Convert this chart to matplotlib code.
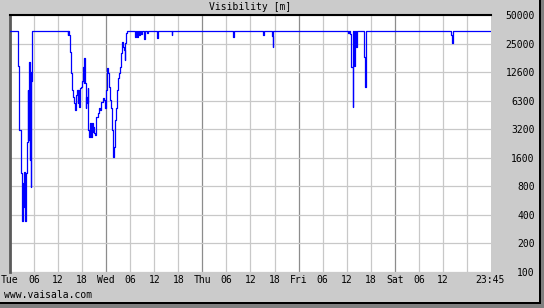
import matplotlib
matplotlib.use("Agg")
import matplotlib.pyplot as plt
from matplotlib.patches import Rectangle

# hours since Tue 00:00 and visibility (m); drawn as steps
hours = [0, 2.08, 2.33, 2.67, 2.92, 3.08, 3.33, 3.46, 3.58, 3.67, 3.83, 4.0, 4.17,
         4.42, 4.58, 4.75, 4.92, 5.08, 5.17, 5.25, 5.42, 5.58,
         14.42, 14.58, 14.75, 15.0, 15.25, 15.58, 15.83, 16.0, 16.25, 16.42, 16.67,
         16.92, 17.08, 17.25, 17.5, 17.75, 18.08, 18.33, 18.45, 18.58, 18.75, 18.92,
         19.05, 19.17, 19.42, 19.58, 19.83, 19.95, 20.08, 20.2, 20.33, 20.58, 20.7,
         20.83, 21.08, 21.33, 21.58, 21.83, 22.08, 22.33, 22.75, 23.08, 23.33, 23.58,
         23.92, 24.17, 24.42, 24.67, 24.92, 25.17, 25.42, 25.58, 25.75, 25.92, 26.08,
         26.25, 26.5, 26.75, 26.92, 27.17, 27.42, 27.67, 27.92, 28.17, 28.42, 28.58,
         28.75, 28.92, 29.17,
         31.2, 31.45, 31.7, 31.95, 32.2, 32.45, 32.7, 32.95, 33.4, 33.65, 34.2, 34.4,
         36.6, 36.9, 40.3, 40.5, 55.7, 55.95, 63.1, 63.35, 65.4, 65.5, 65.7,
         84.4, 84.6, 84.9, 85.15, 85.45, 85.6, 85.9, 86.1, 86.3, 86.55,
         88.3, 88.6, 88.85, 110.05, 110.2, 110.4, 119.7]
visibility = [35000, 15000, 3140, 1106, 534, 348, 862, 488, 1130, 550, 348, 1106, 2370,
              8280, 2460, 16500, 1515, 12900, 794, 10200, 27900, 35000,
              31500, 35000, 31500, 21000, 12450, 8280, 7050, 6000, 5100, 7350, 8280,
              6010, 8280, 5530, 8620, 8980, 10200, 14600, 9770, 17900, 9770, 5320,
              7000, 6010, 8620, 3140, 2670, 3400, 3700, 2670, 2670, 3700, 3000,
              3410, 2900, 2780, 4340, 4710, 5320, 5100, 6250, 6770, 6510, 5320,
              8280, 14000, 12450, 8980, 6510, 5320, 3140, 1855, 1645, 2100, 2460,
              4000, 5320, 8280, 11000, 12450, 14600, 20200, 26800, 23700, 21900, 17200,
              25800, 33000, 35000,
              30300, 35000, 30300, 35000, 31500, 35000, 32000, 35000, 28400, 35000, 33000, 35000,
              29000, 35000, 31500, 35000, 30000, 35000, 31500, 35000, 31000, 23400, 35000,
              33000, 35000, 32500, 14600, 5530, 35000, 15000, 35000, 23700, 35000,
              18300, 8980, 35000, 31500, 26100, 35000, 35000]

y_ticks = [100, 200, 400, 800, 1600, 3200, 6400, 12800, 25600, 51200]
y_labels = ["100", "200", "400", "800", "1600", "3200", "6300", "12600", "25000", "50000"]
x_ticks = [0, 6, 12, 18, 24, 30, 36, 42, 48, 54, 60, 66, 72, 78, 84, 90, 96, 102, 108, 119.75]
x_labels = ["Tue", "06", "12", "18", "Wed", "06", "12", "18", "Thu", "06", "12", "18",
            "Fri", "06", "12", "18", "Sat", "06", "12", "23:45"]
grid_hours = list(range(6, 120, 6))
day_hours = [24, 48, 72, 96]

BG = "#cbcbcb"
W, H = 544, 308
plt.rcParams["font.family"] = ["DejaVu Sans Mono"]
plt.rcParams["font.size"] = 7

fig = plt.figure(figsize=(W / 100, H / 100), dpi=100, facecolor=BG)
L, R, T, B = 10, 491, 15, 272
ax = fig.add_axes([L / W, 1 - B / H, (R - L) / W, (B - T) / H])
ax.set_facecolor("white")

ax.set_yscale("log", base=2)
ax.set_ylim(100, 51200)
ax.set_xlim(0, 120)

for h in grid_hours:
    c = "#8c8c8c" if h in day_hours else "#c8c8c8"
    ax.axvline(h, color=c, lw=0.9, zorder=1)
for v in y_ticks:
    ax.axhline(v, color="#c8c8c8", lw=0.9, zorder=1)

ax.plot(hours, visibility, drawstyle="steps-post", color="#0000ff", lw=0.9, zorder=3)

ax.set_yticks(y_ticks)
ax.set_yticklabels(y_labels)
ax.yaxis.set_minor_locator(matplotlib.ticker.NullLocator())
ax.yaxis.tick_right()
ax.tick_params(axis="y", length=0, pad=31.5)
for lab in ax.get_yticklabels():
    lab.set_horizontalalignment("right")
ax.set_xticks(x_ticks)
ax.set_xticklabels(x_labels)
ax.tick_params(axis="x", length=0, pad=2.5)

for s in ("right", "bottom"):
    ax.spines[s].set_visible(False)
ax.spines["top"].set_color("black")
ax.spines["top"].set_linewidth(1.5)
ax.spines["left"].set_color("#5a5a5a")
ax.spines["left"].set_linewidth(2)

fig.text((L + R) / 2 / W, 1 - 7 / H, "Visibility [m]", ha="center", va="center")
fig.text(4 / W, 1 - 295.5 / H, "www.vaisala.com", ha="left", va="center")

# shadow border on right and bottom
fig.patches.append(Rectangle((538.5 / W, 0), 5.5 / W, 1, transform=fig.transFigure,
                             facecolor="#808080", edgecolor="none"))
fig.patches.append(Rectangle((538.5 / W, 0), 2 / W, 1, transform=fig.transFigure,
                             facecolor="black", edgecolor="none"))
fig.patches.append(Rectangle((0, 0), 1, 6.5 / H, transform=fig.transFigure,
                             facecolor="#808080", edgecolor="none"))
fig.patches.append(Rectangle((0, 4.5 / H), 540.5 / W, 2 / H, transform=fig.transFigure,
                             facecolor="black", edgecolor="none"))

fig.savefig("out.png", dpi=100, facecolor=BG)
